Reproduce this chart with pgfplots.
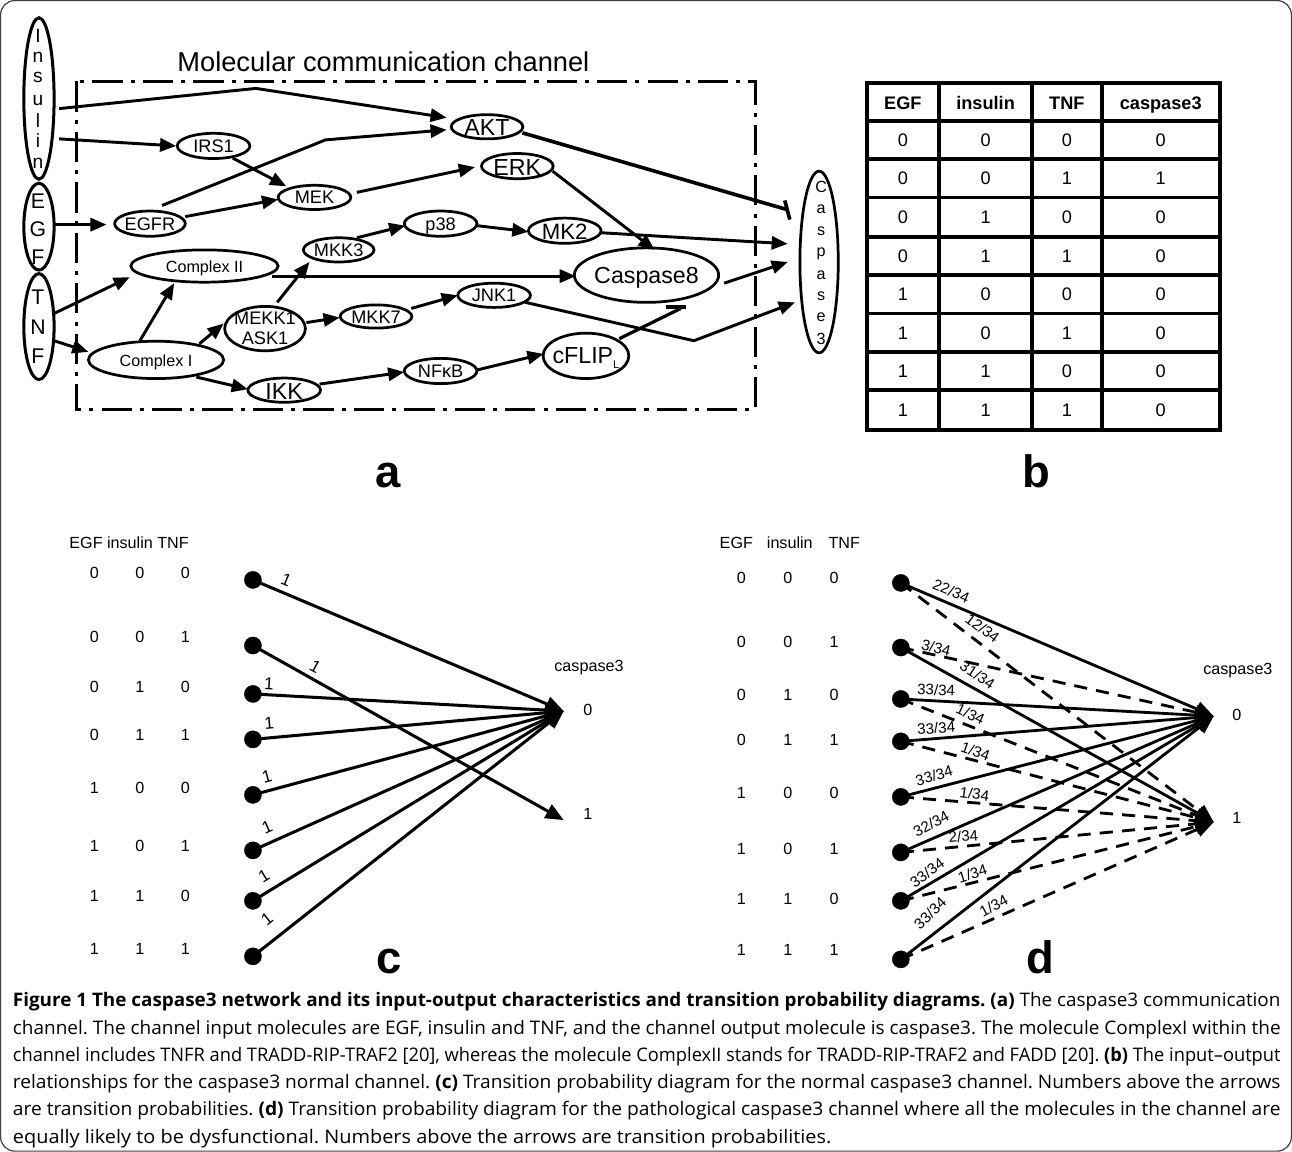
\documentclass[border=0pt]{standalone}
\usepackage{fontspec}
\setmainfont{Liberation Sans}
\newfontfamily\capfont{Open Sans}
\usepackage{graphicx}
\usepackage{pgfplots}
\pgfplotsset{compat=1.18}
\usetikzlibrary{arrows.meta,shapes.geometric}
\newcommand\fs[1]{\fontsize{#1}{#1}\selectfont}
\frenchspacing
\tikzset{
  ar/.style={black,line width=2.9pt,-{Triangle[length=16pt,width=13pt]}},
  el/.style={ellipse,draw,line width=2.7pt,inner sep=0pt},
  car/.style={black,line width=3pt,-{Triangle[length=18pt,width=15pt]}},
  dar/.style={black,line width=2.8pt,-{Triangle[length=18pt,width=15pt]}},
  ddar/.style={black,line width=2.8pt,dash pattern=on 13pt off 9pt,-{Triangle[length=18pt,width=15pt]}},
  lb/.style={anchor=base,inner sep=0pt},
}
\newcommand\crow[4]{\node[font=\fs{16},lb] at (103,#1){#2}; \node[font=\fs{16},lb] at (148,#1){#3}; \node[font=\fs{16},lb] at (193,#1){#4};}
\newcommand\drow[4]{\node[font=\fs{16},lb] at (744,#1){#2}; \node[font=\fs{16},lb] at (790,#1){#3}; \node[font=\fs{16},lb] at (836,#1){#4};}
\newcommand\trow[5]{\node[font=\fs{18},lb] at (904,#1){#2}; \node[font=\fs{18},lb] at (986,#1){#3}; \node[font=\fs{18},lb] at (1066.5,#1){#4}; \node[font=\fs{18},lb] at (1159.5,#1){#5};}
\newcommand\capline[3]{\node[anchor=base west,inner sep=0pt] at (22,#1) {\resizebox{#2}{\height}{\capfont\fs{18.5}\frenchspacing #3}};}
\begin{document}
\begin{tikzpicture}
\begin{axis}[width=1292pt,height=1150pt,scale only axis,
  xmin=0,xmax=1292,ymin=0,ymax=1150,y dir=reverse,hide axis,clip=false]

% frame
\draw[line width=1.2pt,rounded corners=14pt,black!75] (10,8) rectangle (1289,1148);

% ---------------- panel a ----------------
\node[anchor=base west,font=\fs{27},inner sep=0pt] at (185,78) {Molecular communication channel};
\draw[line width=3.5pt,dash pattern=on 30pt off 8pt on 4pt off 8pt] (85,88) rectangle (758,413);

% input ellipses
\node[el,line width=3pt,minimum width=30pt,minimum height=160pt] at (48,105) {};
\node[el,line width=3pt,minimum width=30pt,minimum height=86pt] at (48,232) {};
\node[el,line width=3pt,minimum width=30pt,minimum height=105pt] at (48,331) {};
\node[font=\fs{19},inner sep=0pt] at (47,43) {I};
\node[font=\fs{19},inner sep=0pt] at (47,64) {n};
\node[font=\fs{19},inner sep=0pt] at (47,84) {s};
\node[font=\fs{19},inner sep=0pt] at (47,107) {u};
\node[font=\fs{19},inner sep=0pt] at (47,127) {l};
\node[font=\fs{19},inner sep=0pt] at (47,147) {i};
\node[font=\fs{19},inner sep=0pt] at (47,169) {n};
\node[font=\fs{21},inner sep=0pt] at (47,207) {E};
\node[font=\fs{21},inner sep=0pt] at (47,235) {G};
\node[font=\fs{21},inner sep=0pt] at (47,262) {F};
\node[font=\fs{21},inner sep=0pt] at (47,302) {T};
\node[font=\fs{21},inner sep=0pt] at (47,332) {N};
\node[font=\fs{21},inner sep=0pt] at (47,360) {F};

% output ellipse caspase3
\node[el,line width=2.7pt,minimum width=38pt,minimum height=180pt] at (821,267) {};
\node[font=\fs{16},inner sep=0pt] at (823,193) {C};
\node[font=\fs{16},inner sep=0pt] at (823,215) {a};
\node[font=\fs{16},inner sep=0pt] at (823,237) {s};
\node[font=\fs{16},inner sep=0pt] at (823,259) {p};
\node[font=\fs{16},inner sep=0pt] at (823,280) {a};
\node[font=\fs{16},inner sep=0pt] at (823,301) {s};
\node[font=\fs{16},inner sep=0pt] at (823,322) {e};
\node[font=\fs{16},inner sep=0pt] at (823,343) {3};

% internal ellipses
\node[el,minimum width=72pt,minimum height=25pt] at (221,152) {};
\node[font=\fs{18},lb] at (221,158.5) {IRS1};
\node[el,minimum width=72pt,minimum height=24pt] at (321,203) {};
\node[font=\fs{18},lb] at (321,209.5) {MEK};
\node[el,minimum width=70pt,minimum height=25pt] at (158,229) {};
\node[font=\fs{18},lb] at (158,235.5) {EGFR};
\node[el,minimum width=146pt,minimum height=32pt] at (212,271) {};
\node[font=\fs{16},lb] at (212,277.5) {Complex II};
\node[el,minimum width=134pt,minimum height=37pt] at (164,364) {};
\node[font=\fs{16},lb] at (164,370.5) {Complex I};
\node[el,minimum width=70pt,minimum height=24pt] at (345,255) {};
\node[font=\fs{18},lb] at (345,261.5) {MKK3};
\node[el,minimum width=80pt,minimum height=44pt] at (272,333) {};
\node[font=\fs{18},lb] at (272,328.5) {MEKK1};
\node[font=\fs{18},lb] at (272,349) {ASK1};
\node[el,minimum width=71pt,minimum height=23pt] at (382,321) {};
\node[font=\fs{18},lb] at (382,327.5) {MKK7};
\node[el,minimum width=72pt,minimum height=24pt] at (291,394) {};
\node[font=\fs{23},lb] at (291,403.5) {IKK};
\node[el,minimum width=71pt,minimum height=24pt] at (492,133) {};
\node[font=\fs{23},lb] at (492,141.5) {AKT};
\node[el,minimum width=71pt,minimum height=25pt] at (522,172) {};
\node[font=\fs{23},lb] at (522,181) {ERK};
\node[el,minimum width=72pt,minimum height=25pt] at (446,229) {};
\node[font=\fs{18},lb] at (446,235.5) {p38};
\node[el,minimum width=72pt,minimum height=25pt] at (569,236) {};
\node[font=\fs{22},lb] at (569,244.5) {MK2};
\node[el,minimum width=143pt,minimum height=54pt] at (650,280) {};
\node[font=\fs{23},lb] at (650,288.5) {Caspase8};
\node[el,minimum width=72pt,minimum height=24pt] at (499,300) {};
\node[font=\fs{18},lb] at (499,306.5) {JNK1};
\node[el,minimum width=72pt,minimum height=25pt] at (446,375) {};
\node[font=\fs{18},lb] at (446,381.5) {NF\char"03BA B};
\node[el,minimum width=85pt,minimum height=45pt] at (590,360) {};
\node[font=\fs{23},lb] at (590,368) {cFLIP\raisebox{-5pt}{\fs{11}L}};

% edges
\addplot[ar] coordinates {(68,115) (263,95) (452,124)};
\addplot[ar] coordinates {(170,211) (332,146) (452,136)};
\addplot[ar] coordinates {(68,145) (184,152)};
\addplot[ar] coordinates {(240,164) (293,192)};
\addplot[ar] coordinates {(62,230) (115,230)};
\addplot[ar] coordinates {(193,222) (285,205)};
\addplot[ar] coordinates {(363,198) (480,173)};
\addplot[ar] coordinates {(557,177) (658,255)};
\addplot[ar] coordinates {(63,318) (138,282)};
\addplot[ar] coordinates {(63,345) (97,356)};
\addplot[ar] coordinates {(148,345) (182,288)};
\addplot[ar] coordinates {(207,348) (231,328)};
\addplot[ar] coordinates {(284,307) (316,267)};
\addplot[ar] coordinates {(313,327) (346,322)};
\addplot[ar] coordinates {(363,243) (411,231)};
\addplot[ar] coordinates {(482,231) (533,237)};
\addplot[ar] coordinates {(605,238) (790,249)};
\addplot[ar] coordinates {(279,281) (580,281)};
\addplot[ar] coordinates {(727,288) (790,267)};
\addplot[ar] coordinates {(417,313) (463,300)};
\addplot[ar] coordinates {(530,307) (697,345) (797,307)};
\addplot[ar] coordinates {(204,381) (255,393)};
\addplot[ar] coordinates {(326,388) (410,376)};
\addplot[ar] coordinates {(482,374) (548,358)};
% inhibitions
\addplot[black,line width=3.2pt] coordinates {(623,343) (684,313)};
\addplot[black,line width=4pt] coordinates {(669,312) (689,312)};
\addplot[black,line width=3.6pt] coordinates {(527,139) (789,215)};
\addplot[black,line width=3.6pt] coordinates {(787,206) (792,225)};

\node[font=\bfseries\fs{45},anchor=base] at (394,490) {a};

% ---------------- panel b ----------------
\draw[line width=4pt] (868,90) rectangle (1218,433);
\draw[line width=4pt] (940,90) -- (940,433) (1032,90) -- (1032,433) (1101,90) -- (1101,433);
\draw[line width=3.6pt] (868,127) -- (1218,127) (868,165) -- (1218,165) (868,203) -- (1218,203)
  (868,242) -- (1218,242) (868,280) -- (1218,280) (868,318) -- (1218,318) (868,356) -- (1218,356) (868,394) -- (1218,394);
\node[font=\bfseries\fs{18},lb] at (904,115.5) {EGF};
\node[font=\bfseries\fs{18},lb] at (986,115.5) {insulin};
\node[font=\bfseries\fs{18},lb] at (1066.5,115.5) {TNF};
\node[font=\bfseries\fs{18},lb] at (1159.5,115.5) {caspase3};
\trow{152.5}{0}{0}{0}{0}
\trow{190.5}{0}{0}{1}{1}
\trow{229}{0}{1}{0}{0}
\trow{267.5}{0}{1}{1}{0}
\trow{305.5}{1}{0}{0}{0}
\trow{343.5}{1}{0}{1}{0}
\trow{381.5}{1}{1}{0}{0}
\trow{420}{1}{1}{1}{0}
\node[font=\bfseries\fs{45},anchor=base] at (1036,490) {b};

% ---------------- panel c ----------------
\node[anchor=base west,font=\fs{16},inner sep=0pt] at (78,551) {EGF insulin TNF};
\crow{581}{0}{0}{0}
\crow{644}{0}{0}{1}
\crow{694}{0}{1}{0}
\crow{741}{0}{1}{1}
\crow{794}{1}{0}{0}
\crow{851}{1}{0}{1}
\crow{901}{1}{1}{0}
\crow{953}{1}{1}{1}
\addplot[car] coordinates {(260,582) (568,712)};
\addplot[car] coordinates {(260,647) (568,820)};
\addplot[car] coordinates {(260,695) (568,712)};
\addplot[car] coordinates {(260,740) (568,712)};
\addplot[car] coordinates {(260,795) (568,712)};
\addplot[car] coordinates {(260,850) (568,712)};
\addplot[car] coordinates {(260,900) (568,712)};
\addplot[car] coordinates {(260,955) (568,712)};
\addplot[only marks,mark=*,mark size=8.5pt,black] coordinates {(260,582) (260,647) (260,695) (260,740) (260,795) (260,850) (260,900) (260,955)};
\node[font=\fs{17},rotate=-23] at (293,582) {1};
\node[font=\fs{17},rotate=-29] at (322,668) {1};
\node[font=\fs{17},rotate=-3] at (276,685) {1};
\node[font=\fs{17},rotate=5] at (276,724) {1};
\node[font=\fs{17},rotate=15] at (274,777) {1};
\node[font=\fs{17},rotate=24] at (274,827) {1};
\node[font=\fs{17},rotate=31] at (271,875) {1};
\node[font=\fs{17},rotate=38] at (274,918) {1};
\node[font=\fs{16},lb] at (593,673) {caspase3};
\node[font=\fs{16},lb] at (592,716) {0};
\node[font=\fs{16},lb] at (592,819) {1};
\node[font=\bfseries\fs{45},anchor=base] at (395,972) {c};

% ---------------- panel d ----------------
\node[font=\fs{16},lb] at (739,551) {EGF};
\node[font=\fs{16},lb] at (792,551) {insulin};
\node[font=\fs{16},lb] at (846,551) {TNF};
\drow{586}{0}{0}{0}
\drow{649}{0}{0}{1}
\drow{701}{0}{1}{0}
\drow{746}{0}{1}{1}
\drow{799}{1}{0}{0}
\drow{854}{1}{0}{1}
\drow{904}{1}{1}{0}
\drow{954}{1}{1}{1}
% dashed (minor) transitions
\addplot[ddar] coordinates {(902,585) (1212,822)};
\addplot[ddar] coordinates {(902,649) (1212,717)};
\addplot[ddar] coordinates {(902,700) (1212,822)};
\addplot[ddar] coordinates {(902,742) (1212,822)};
\addplot[ddar] coordinates {(902,797) (1212,822)};
\addplot[ddar] coordinates {(902,852) (1212,822)};
\addplot[ddar] coordinates {(902,900) (1212,822)};
\addplot[ddar] coordinates {(902,958) (1212,822)};
% solid (major) transitions
\addplot[dar] coordinates {(902,585) (1212,717)};
\addplot[dar] coordinates {(902,649) (1212,822)};
\addplot[dar] coordinates {(902,700) (1212,717)};
\addplot[dar] coordinates {(902,742) (1212,717)};
\addplot[dar] coordinates {(902,797) (1212,717)};
\addplot[dar] coordinates {(902,852) (1212,717)};
\addplot[dar] coordinates {(902,900) (1212,717)};
\addplot[dar] coordinates {(902,958) (1212,717)};
\addplot[only marks,mark=*,mark size=8.5pt,black] coordinates {(902,585) (902,649) (902,700) (902,742) (902,797) (902,852) (902,900) (902,958)};
\node[font=\fs{15},rotate=-23] at (952,593) {22/34};
\node[font=\fs{15},rotate=-37] at (983,630) {12/34};
\node[font=\fs{15},rotate=-14] at (937,649) {3/34};
\node[font=\fs{15},rotate=-33] at (978,676) {31/34};
\node[font=\fs{15},rotate=-2] at (937,691) {33/34};
\node[font=\fs{15},rotate=-25] at (971,715) {1/34};
\node[font=\fs{15},rotate=4] at (937,729) {33/34};
\node[font=\fs{15},rotate=-20] at (976,752) {1/34};
\node[font=\fs{15},rotate=16] at (935,776) {33/34};
\node[font=\fs{15},rotate=-8] at (975,794) {1/34};
\node[font=\fs{15},rotate=28] at (932,824) {32/34};
\node[font=\fs{15},rotate=5] at (964,836) {2/34};
\node[font=\fs{15},rotate=36] at (928,872) {33/34};
\node[font=\fs{15},rotate=17] at (973,873) {1/34};
\node[font=\fs{15},rotate=44] at (931,912) {33/34};
\node[font=\fs{15},rotate=28] at (994,905) {1/34};
\node[font=\fs{16},lb] at (1236,676) {caspase3};
\node[font=\fs{16},lb] at (1235,721) {0};
\node[font=\fs{16},lb] at (1235,823) {1};
\node[font=\bfseries\fs{45},anchor=base] at (1040,972) {d};

% ---------------- caption ----------------
\capline{1005}{1256pt}{\textbf{Figure 1 The caspase3 network and its input-output characteristics and transition probability diagrams. (a)} The caspase3 communication}
\capline{1032}{1256pt}{channel. The channel input molecules are EGF, insulin and TNF, and the channel output molecule is caspase3. The molecule ComplexI within the}
\capline{1059}{1256pt}{channel includes TNFR and TRADD-RIP-TRAF2 [20], whereas the molecule ComplexII stands for TRADD-RIP-TRAF2 and FADD [20]. \textbf{(b)} The input–output}
\capline{1086}{1256pt}{relationships for the caspase3 normal channel. \textbf{(c)} Transition probability diagram for the normal caspase3 channel. Numbers above the arrows}
\capline{1113}{1256pt}{are transition probabilities. \textbf{(d)} Transition probability diagram for the pathological caspase3 channel where all the molecules in the channel are}
\capline{1140}{811pt}{equally likely to be dysfunctional. Numbers above the arrows are transition probabilities.}
\end{axis}
\end{tikzpicture}
\end{document}
